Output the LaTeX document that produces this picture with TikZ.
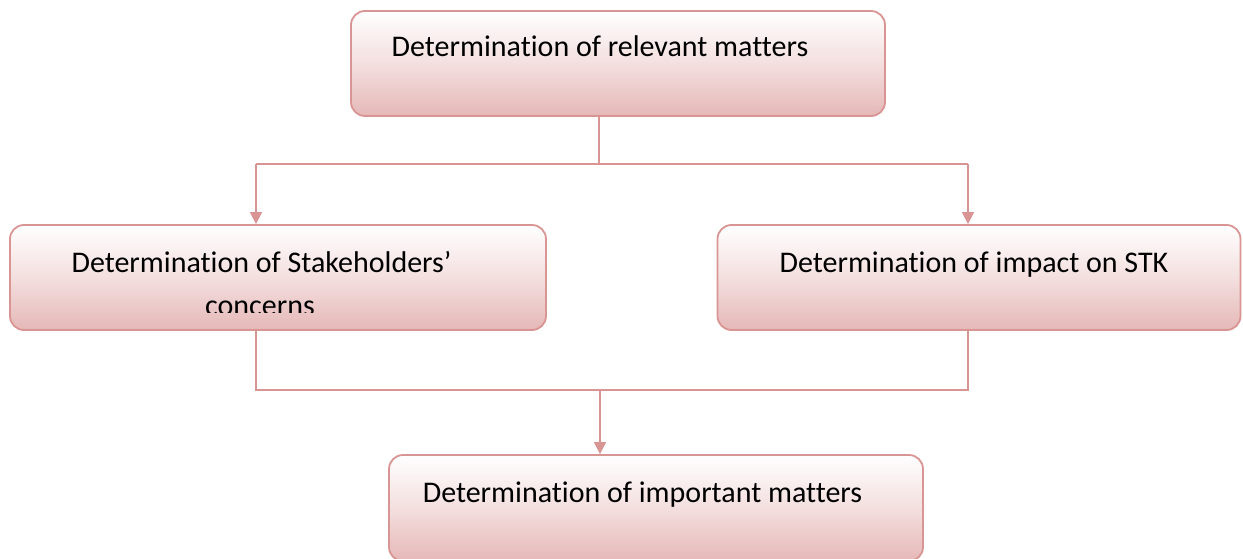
\documentclass[tikz,border=0pt]{standalone}
\usepackage{fontspec}
\setmainfont{Carlito}[Ligatures=NoCommon, RawFeature={-liga;-clig;-calt}]
\usetikzlibrary{arrows.meta}
\definecolor{pinkline}{HTML}{D99594}
\definecolor{pinkfill}{HTML}{E5B8B7}
\tikzset{
  flowbox/.style={draw=pinkline, line width=1.8pt, rounded corners=14pt,
    top color=white, bottom color=pinkfill, middle color=pinkfill!45,
    inner sep=0pt},
  boxtext/.style={font=\fontsize{30}{36}\selectfont, inner sep=0pt, anchor=base},
  conn/.style={draw=pinkline, line width=1.6pt},
  arr/.style={conn, -{Triangle[width=12pt,length=12pt]}}
}
\begin{document}
\begin{tikzpicture}[x=1pt,y=-1pt]
\useasboundingbox (0,0) rectangle (1243,559);
% boxes
\node[flowbox, minimum width=534pt, minimum height=105pt] (top) at (618,63.5) {};
\node[flowbox, minimum width=536pt, minimum height=105pt] (left) at (278,277.5) {};
\node[flowbox, minimum width=523pt, minimum height=105pt] (right) at (979,277.5) {};
\node[flowbox, minimum width=534pt, minimum height=106pt] (bot) at (656,508) {};
% texts
\node[boxtext] (ttop) at (600,57) {Determination of relevant matters};
\node[boxtext] (tleft) at (261.5,272) {Determination of Stakeholders’};
\begin{scope}
\clip (20,285) rectangle (540,312);
\node[boxtext] (tleft2) at (260,315) {concerns};
\end{scope}
\node[boxtext] (tright) at (974,272) {Determination of impact on STK};
\node[boxtext] (tbot) at (642.5,502) {Determination of important matters};
% connectors
\coordinate (j1) at (599,164);
\coordinate (la) at (256,164);
\coordinate (ra) at (968,164);
\draw[conn] (top.south -| j1) -- (j1);
\draw[conn] (la) -- (ra);
\draw[arr] (la) -- (la |- left.north);
\draw[arr] (ra) -- (ra |- right.north);
\coordinate (lb) at (256,390);
\coordinate (rb) at (968,390);
\coordinate (j2) at (600,390);
\draw[conn] (left.south -| lb) -- (lb) -- (rb) -- (right.south -| rb);
\draw[arr] (j2) -- (j2 |- bot.north);
\end{tikzpicture}
\end{document}
